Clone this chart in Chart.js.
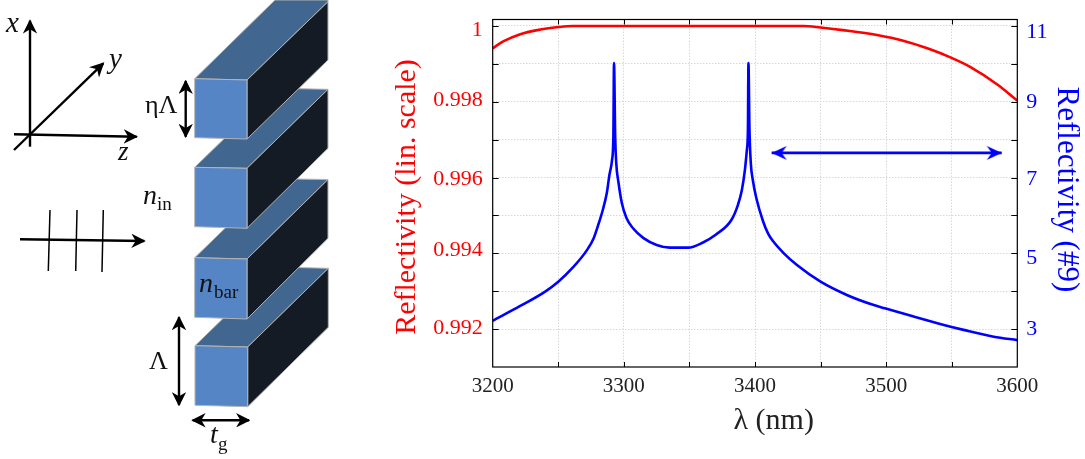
<!DOCTYPE html>
<html>
<head>
<meta charset="utf-8">
<script src="https://cdn.jsdelivr.net/npm/chart.js@4/dist/chart.umd.js"></script>
<style>
html,body{margin:0;padding:0;background:#fff;overflow:hidden}
#wrap{position:relative;width:1085px;height:459px}
canvas,svg{position:absolute;left:0;top:0}
svg text{font-family:"Liberation Serif",serif;fill:#111}
</style>
</head>
<body>
<div id="wrap">
<canvas id="c" width="1085" height="459"></canvas>
<svg width="1085" height="459" viewBox="0 0 1085 459" xmlns="http://www.w3.org/2000/svg">
  <defs>
    <marker id="h" viewBox="0 0 10 10" refX="9" refY="5" markerWidth="6" markerHeight="6" orient="auto-start-reverse">
      <path d="M0,0 L10,5 L0,10 L3,5 z" fill="#000"/>
    </marker>
  </defs>
  <g stroke="#b4b4b4" stroke-width="1" stroke-linejoin="round">
    <polygon points="195,345.7 276,267 328.3,268.3 247.7,347" fill="#41668f"/>
    <polygon points="247.7,347 328.3,268.3 328.3,327.3 247.7,406.7" fill="#141b24"/>
    <polygon points="195,345.7 247.7,347 247.7,406.7 195,405.3" fill="#5585c5"/>
    <polygon points="194.7,257.7 276,178.7 328,179.5 247,259" fill="#41668f"/>
    <polygon points="247,259 328,179.5 328,238.3 247,319" fill="#141b24"/>
    <polygon points="194.7,257.7 247,259 247,319 194.7,317.3" fill="#5585c5"/>
    <polygon points="194.7,167.3 276,88.3 328,89.3 247,168.3" fill="#41668f"/>
    <polygon points="247,168.3 328,89.3 328,148.3 247,228.3" fill="#141b24"/>
    <polygon points="194.7,167.3 247,168.3 247,228.3 194.7,226.7" fill="#5585c5"/>
    <polygon points="194.7,78.7 275,0 328,0 328,1.7 247,80" fill="#41668f"/>
    <polygon points="247,80 328,1.7 328,60 247,139" fill="#141b24"/>
    <polygon points="194.7,78.7 247,80 247,139 194.7,137.7" fill="#5585c5"/>
  </g>
  <g stroke="#000" stroke-width="2.4" fill="none">
    <line x1="30" y1="146.7" x2="30" y2="20.7" marker-end="url(#h)"/>
    <line x1="14" y1="134.3" x2="136.7" y2="136.7" marker-end="url(#h)"/>
    <line x1="14" y1="150" x2="103.3" y2="63.3" marker-end="url(#h)"/>
    <line x1="20" y1="239.3" x2="144.3" y2="241" marker-end="url(#h)"/>
    <line x1="185.7" y1="81" x2="185.7" y2="136.7" marker-start="url(#h)" marker-end="url(#h)"/>
    <line x1="179" y1="317.3" x2="179" y2="405" marker-start="url(#h)" marker-end="url(#h)"/>
    <line x1="192.7" y1="420.3" x2="249" y2="420.3" marker-start="url(#h)" marker-end="url(#h)"/>
    <g stroke-width="1.5">
      <line x1="50" y1="210" x2="48.3" y2="271"/>
      <line x1="77" y1="210" x2="75.7" y2="271"/>
      <line x1="103.3" y1="210" x2="102" y2="272"/>
    </g>
  </g>
  <text x="6" y="32" font-size="29" font-style="italic">x</text>
  <text x="109" y="68" font-size="29" font-style="italic">y</text>
  <text x="118" y="160" font-size="27" font-style="italic">z</text>
  <text x="145" y="113" font-size="26">ηΛ</text>
  <text x="143" y="204" font-size="28" font-style="italic">n</text>
  <text x="157" y="210" font-size="19">in</text>
  <text x="199" y="292" font-size="28" font-style="italic">n</text>
  <text x="214" y="298" font-size="19">bar</text>
  <text x="149" y="369" font-size="26">Λ</text>
  <text x="210" y="443" font-size="28" font-style="italic">t</text>
  <text x="218" y="450" font-size="19">g</text>
</svg>
</div>
<script>
const blueWavelengths = [3200,3221,3240,3250,3261,3272,3277,3280,3284,3287,3289,3291,3292,3292.5,3293.4,3294.2,3296,3298.5,3302,3307,3315,3325,3335,3349,3360,3370,3382,3387,3390,3392.3,3393.8,3394.6,3395,3395.8,3396.8,3398.3,3401,3406,3410,3414,3422,3432,3450,3470,3490,3499,3521,3544,3559,3582,3600];
const blueValues = [3.22,3.61,3.99,4.25,4.62,5.09,5.40,5.70,6.15,6.59,7.07,7.46,8.08,10.02,8.08,7.38,6.85,6.32,5.93,5.66,5.40,5.22,5.15,5.15,5.28,5.49,5.88,6.28,6.67,7.20,7.73,8.26,10.02,8.26,7.38,6.94,6.46,5.86,5.52,5.31,5.00,4.69,4.25,3.90,3.64,3.55,3.33,3.11,2.98,2.80,2.71];
const redWavelengths = [3200,3208,3221,3234,3250,3261,3340,3437,3450,3467,3493,3513,3533,3549,3564,3585,3600];
const redValues = [0.99941,0.99959,0.99978,0.99989,0.99997,1,1,1,0.99996,0.99989,0.99976,0.99961,0.99939,0.99917,0.99892,0.99845,0.99803];
const spanWavelengths = [3412.7,3588.1];
const spanValues = [7.65,7.65];
const xTicks = [3200,3250,3300,3350,3400,3450,3500,3550,3600];
const xLabelled = [3200,3300,3400,3500,3600];
const leftTicks = [0.992,0.993,0.994,0.995,0.996,0.997,0.998,0.999,1];
const leftLabels = {0.992:'0.992',0.994:'0.994',0.996:'0.996',0.998:'0.998',1:'1'};
const rightTicks = [3,4,5,6,7,8,9,10,11];
const rightLabelled = [3,5,7,9,11];
const leftLabelShift = {'1':4,'0.998':-2,'0.996':2,'0.994':-3,'0.992':-1};
const rightLabelShift = {'11':6,'9':0,'7':2,'5':5,'3':0};
const RED='#ff0000', BLUE='#0000ff', FONT='"Liberation Serif", serif';

function head(dir){
  const c=document.createElement('canvas'); c.width=32;c.height=16;
  const g=c.getContext('2d'); g.translate(16,8); g.scale(dir,1);
  g.fillStyle=BLUE; g.beginPath(); g.moveTo(0,0); g.lineTo(-15,-7); g.lineTo(-10,0); g.lineTo(-15,7); g.closePath(); g.fill();
  return c;
}
const pairs=(xs,ys)=>xs.map((x,i)=>({x,y:ys[i]}));
const frame={
  id:'frame',
  beforeDraw(ch){
    const nudge=(s,map)=>s.getLabelItems(ch.chartArea).forEach(it=>{
      const d=map[it.label]; if(d!==undefined && !it._n){it.options.translation[1]+=d; it._n=1;}
    });
    nudge(ch.scales.y,leftLabelShift); nudge(ch.scales.y2,rightLabelShift);
  },
  afterDraw(ch){
    const {left,right,top,bottom}=ch.chartArea, g=ch.ctx;
    g.save(); g.strokeStyle='#000'; g.lineWidth=1; g.beginPath();
    const sn=v=>Math.round(v)+0.5;
    xTicks.slice(1,-1).forEach(v=>{const p=sn(ch.scales.x.getPixelForValue(v));
      g.moveTo(p,bottom);g.lineTo(p,bottom-5);g.moveTo(p,top);g.lineTo(p,top+5);});
    leftTicks.forEach(v=>{const p=sn(ch.scales.y.getPixelForValue(v));g.moveTo(left,p);g.lineTo(left+6,p);});
    rightTicks.forEach(v=>{const p=sn(ch.scales.y2.getPixelForValue(v));g.moveTo(right,p);g.lineTo(right-6,p);});
    g.stroke();
    g.lineWidth=1.2; g.strokeRect(left,top,right-left,bottom-top);
    g.restore();
  }
};
const fitY=w=>s=>{s.width=w;s.paddingTop=0;s.paddingBottom=0;};
new Chart(document.getElementById('c'),{
  type:'line',
  data:{datasets:[
    {data:pairs(redWavelengths,redValues),yAxisID:'y',borderColor:RED,borderWidth:2.6,pointRadius:0,cubicInterpolationMode:'monotone',fill:false},
    {data:pairs(blueWavelengths,blueValues),yAxisID:'y2',borderColor:BLUE,borderWidth:2.6,pointRadius:0,cubicInterpolationMode:'monotone',fill:false},
    {data:pairs(spanWavelengths,spanValues),yAxisID:'y2',borderColor:BLUE,borderWidth:2.7,pointRadius:8,
     pointStyle:[head(-1),head(1)],tension:0,fill:false}
  ]},
  plugins:[frame],
  options:{
    responsive:false,animation:false,devicePixelRatio:1,
    layout:{padding:{top:19.5,left:0,right:0,bottom:0}},
    plugins:{legend:{display:false},tooltip:{enabled:false},title:{display:false}},
    scales:{
      x:{type:'linear',position:'bottom',min:3200,max:3600,
        afterBuildTicks:s=>{s.ticks=xTicks.map(value=>({value}));},
        afterFit:s=>{s.height=92;},
        ticks:{autoSkip:false,maxRotation:0,padding:7,color:'#222',font:{family:FONT,size:21},
          callback:v=>xLabelled.includes(v)?String(v):''},
        grid:{color:'#d8d8d8',drawTicks:false,lineWidth:1},
        border:{display:false,dash:[1.5,1.5]},
        title:{display:true,text:'\u00a0\u00a0\u00a0\u00a0\u00a0λ (nm)',color:'#222',font:{family:FONT,size:30},padding:{top:0,bottom:20}}
      },
      y:{type:'linear',position:'left',min:0.991,max:1.00017,
        afterBuildTicks:s=>{s.ticks=leftTicks.map(value=>({value}));},
        afterFit:fitY(492.7),
        ticks:{autoSkip:false,padding:10,color:RED,font:{family:FONT,size:22},
          callback:v=>leftLabels[+v.toFixed(3)]||''},
        grid:{color:'#d8d8d8',drawTicks:false,lineWidth:1},
        border:{display:false,dash:[1.5,1.5]},
        title:{display:true,text:'Reflectivity (lin. scale)\u00a0',color:RED,font:{family:FONT,size:30},padding:{top:389,bottom:0}}
      },
      y2:{type:'linear',position:'right',min:2,max:11.17,
        afterBuildTicks:s=>{s.ticks=rightTicks.map(value=>({value}));},
        afterFit:fitY(67.7),
        ticks:{autoSkip:false,padding:9,color:BLUE,font:{family:FONT,size:22},
          callback:v=>rightLabelled.includes(v)?String(v):''},
        grid:{drawOnChartArea:false,drawTicks:false},
        border:{display:false},
        title:{display:true,text:'Reflectivity (#9)\u00a0',color:BLUE,font:{family:FONT,size:31},padding:{top:0.4,bottom:0}}
      }
    }
  }
});
</script>
</body>
</html>
